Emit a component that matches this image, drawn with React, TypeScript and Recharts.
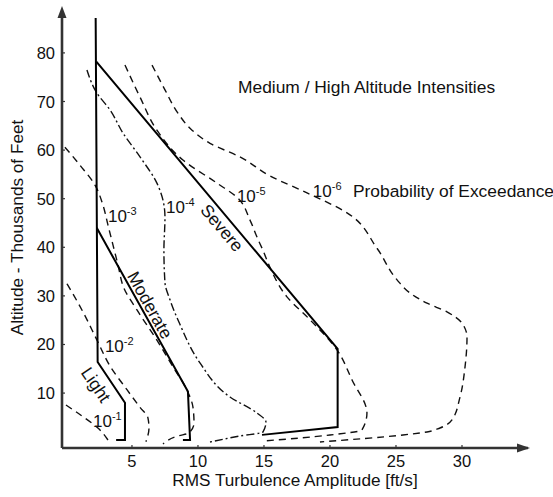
import { ComposedChart, Line, XAxis, YAxis, ReferenceDot } from "recharts";

type Pt = [number, number];

const INK = "#111";
const AXIS = "#333";

const xTicks = [5, 10, 15, 20, 25, 30];
const yTicks = [10, 20, 30, 40, 50, 60, 70, 80];

// intensity boundaries: [rms ft/s, altitude kft]
const lightLine: Pt[] = [[2.25, 87.2], [2.4, 16.4], [4.47, 8.0], [4.47, 0.35], [3.8, 0.35]];
const moderateLine: Pt[] = [[2.33, 44.0], [9.24, 10.3], [9.4, 0.35], [8.86, 0.35]];
const severeLine: Pt[] = [[2.3, 78.2], [20.58, 19.1], [20.58, 3.0], [14.85, 1.4]];

// probability of exceedance contours
const pe1: Pt[] = [[0, 7.55], [1.21, 5.29], [2.42, 2.82], [3.33, -0.27]];
const pe2: Pt[] = [
  [0.08, 32.5], [1.29, 26.7], [2.35, 20.9], [3.33, 15.6], [4.62, 10.7],
  [5.6, 7.1], [6.21, 4.9], [6.29, 2.8], [6.06, 0],
];
const pe3: Pt[] = [
  [-0.08, 60.6], [1.06, 56.9], [2.2, 52.8], [2.8, 48.7], [3.18, 44.6], [3.56, 40.5],
  [3.94, 36.4], [4.39, 31.6], [5.38, 27.1], [6.89, 20.9], [8.11, 15.4], [9.17, 10.6],
  [9.62, 7.1], [9.7, 3.85], [9.32, 1.79], [8.48, 1.17], [7.35, -0.47],
];
const pe4: Pt[] = [
  [1.59, 76.5], [2.35, 71.7], [3.33, 68.3], [4.32, 63.5], [5.61, 58.6], [6.89, 53.2],
  [7.35, 49.7], [7.5, 46.2], [7.42, 39.4], [7.5, 32.7], [7.88, 29.2], [8.64, 24.1],
  [10.15, 16.2], [12.42, 9.2], [14.47, 5.9], [15.15, 4.05], [14.92, 1.99], [13.18, 1.17],
  [10.91, -0.06],
];
const pe5: Pt[] = [
  [4.47, 77.5], [5.61, 70.9], [6.89, 64.1], [8.86, 57.96], [11.44, 53.2], [12.95, 50.3],
  [13.94, 45.6], [14.47, 42.1], [14.92, 39.4], [15.45, 35.9], [16.74, 29.8], [18.48, 25.1],
  [20.53, 18.9], [21.67, 12.7], [22.8, 5.9], [22.42, 2.41], [20.0, 1.38], [17.73, 0.76],
  [14.92, 0.14],
];
const pe6: Pt[] = [
  [6.52, 77.5], [7.5, 72.4], [8.48, 67.6], [9.55, 64.1], [10.91, 61.4], [13.18, 58.6],
  [15.45, 54.7], [18.26, 51.2], [21.29, 47.1], [23.56, 39.8], [25.08, 33.3], [26.06, 30.6],
  [27.35, 28.5], [28.86, 26.7], [30.0, 24.4], [30.38, 21.5], [30.23, 15.4], [29.85, 9.2],
  [29.24, 4.47], [28.33, 2.82], [27.35, 2.0], [25.53, 1.38], [19.24, -0.06],
];

const rows = (pts: Pt[]) => pts.map(([x, y]) => ({ x, y }));

const solids = [lightLine, moderateLine, severeLine];
const contours = [pe1, pe2, pe3, pe4, pe5, pe6];

// text placed in data coordinates
const expLabels = [
  { x: 2.05, y: 3.02, exp: "-1" },
  { x: 2.95, y: 18.5, exp: "-2" },
  { x: 3.18, y: 45.2, exp: "-3" },
  { x: 7.58, y: 47.1, exp: "-4" },
  { x: 12.95, y: 49.3, exp: "-5" },
  { x: 18.7, y: 50.3, exp: "-6" },
];
const rotLabels = [
  { x: 2.27, y: 11.7, text: "Light", angle: 56 },
  { x: 6.36, y: 28.1, text: "Moderate", angle: 61 },
  { x: 11.82, y: 44.0, text: "Severe", angle: 50 },
];
const plainLabels = [
  { x: 13.03, y: 71.7, text: "Medium / High Altitude Intensities" },
  { x: 21.74, y: 50.3, text: "Probability of Exceedance" },
];

const XTick = (p: any) => (
  <g>
    <line x1={p.x} x2={p.x} y1={p.y} y2={p.y - 3} stroke={AXIS} strokeWidth={1.2} />
    <text x={p.x} y={p.y + 13} textAnchor="middle" dominantBaseline="central" fontSize={16.5} fill={INK}>
      {p.payload.value}
    </text>
  </g>
);

const YTick = (p: any) => (
  <g>
    <line x1={p.x} x2={p.x + 3} y1={p.y} y2={p.y} stroke={AXIS} strokeWidth={1.2} />
    <text x={p.x - 7} y={p.y} textAnchor="end" dominantBaseline="central" fontSize={16.5} fill={INK}>
      {p.payload.value}
    </text>
  </g>
);

const XLabel = (p: any) => {
  const vb = p.viewBox;
  return (
    <text x={vb.x + vb.width / 2} y={vb.y + 32} textAnchor="middle" dominantBaseline="central" fontSize={17.2} fill={INK}>
      RMS Turbulence Amplitude [ft/s]
    </text>
  );
};

const YLabel = (p: any) => {
  const vb = p.viewBox;
  const cx = vb.x + 17;
  const cy = vb.y + vb.height / 2 - 4;
  return (
    <text x={cx} y={cy} transform={`rotate(-90, ${cx}, ${cy})`} textAnchor="middle" dominantBaseline="central" fontSize={17.2} fill={INK}>
      Altitude - Thousands of Feet
    </text>
  );
};

export default function App() {
  return (
    <div style={{ position: "absolute", left: 0, top: 0, width: 553, height: 497, background: "#fff", fontFamily: "'Liberation Sans', Arial, sans-serif" }}>
      <ComposedChart width={553} height={497} margin={{ top: 15, right: 25, bottom: 0, left: 0 }}>
        <XAxis
          type="number"
          dataKey="x"
          domain={[-0.3, 35]}
          ticks={xTicks}
          interval={0}
          allowDataOverflow
          height={49}
          tickSize={0}
          tickMargin={0}
          tick={XTick}
          axisLine={{ stroke: AXIS, strokeWidth: 2.6 }}
          label={XLabel}
        />
        <YAxis
          type="number"
          dataKey="y"
          domain={[-1.3, 87.8]}
          ticks={yTicks}
          interval={0}
          allowDataOverflow
          width={62}
          tickSize={0}
          tickMargin={0}
          tick={YTick}
          axisLine={{ stroke: AXIS, strokeWidth: 2.6 }}
          label={YLabel}
        />
        {contours.map((c, i) => (
          <Line
            key={`pe${i}`}
            data={rows(c)}
            dataKey="y"
            type="monotoneY"
            stroke={INK}
            strokeWidth={1.4}
            strokeDasharray={i === 3 ? "8 3 2 3" : "7 5"}
            dot={false}
            activeDot={false}
            isAnimationActive={false}
          />
        ))}
        {solids.map((s, i) => (
          <Line
            key={`s${i}`}
            data={rows(s)}
            dataKey="y"
            type="linear"
            stroke="#000"
            strokeWidth={2}
            dot={false}
            activeDot={false}
            isAnimationActive={false}
          />
        ))}
        {expLabels.map((l, i) => (
          <ReferenceDot
            key={`e${i}`}
            x={l.x}
            y={l.y}
            ifOverflow="visible"
            shape={(p: any) => (
              <text x={p.cx} y={p.cy} fontSize={17} fill={INK}>
                10<tspan fontSize={11} dy={-7}>{l.exp}</tspan>
              </text>
            )}
          />
        ))}
        {rotLabels.map((l, i) => (
          <ReferenceDot
            key={`r${i}`}
            x={l.x}
            y={l.y}
            ifOverflow="visible"
            shape={(p: any) => (
              <text
                x={p.cx}
                y={p.cy}
                transform={`rotate(${l.angle}, ${p.cx}, ${p.cy})`}
                textAnchor="middle"
                dominantBaseline="central"
                fontSize={17.5}
                fill={INK}
              >
                {l.text}
              </text>
            )}
          />
        ))}
        {plainLabels.map((l, i) => (
          <ReferenceDot
            key={`t${i}`}
            x={l.x}
            y={l.y}
            ifOverflow="visible"
            shape={(p: any) => (
              <text x={p.cx} y={p.cy} fontSize={17.4} fill={INK}>
                {l.text}
              </text>
            )}
          />
        ))}
        {/* axis arrowheads */}
        <ReferenceDot
          x={35}
          y={-1.3}
          ifOverflow="visible"
          shape={(p: any) => (
            <polygon points={`${p.cx + 2},${p.cy} ${p.cx - 11},${p.cy - 4.5} ${p.cx - 11},${p.cy + 4.5}`} fill={AXIS} />
          )}
        />
        <ReferenceDot
          x={-0.3}
          y={87.8}
          ifOverflow="visible"
          shape={(p: any) => (
            <polygon points={`${p.cx},${p.cy - 9} ${p.cx - 4.5},${p.cy + 3} ${p.cx + 4.5},${p.cy + 3}`} fill={AXIS} />
          )}
        />
      </ComposedChart>
    </div>
  );
}
